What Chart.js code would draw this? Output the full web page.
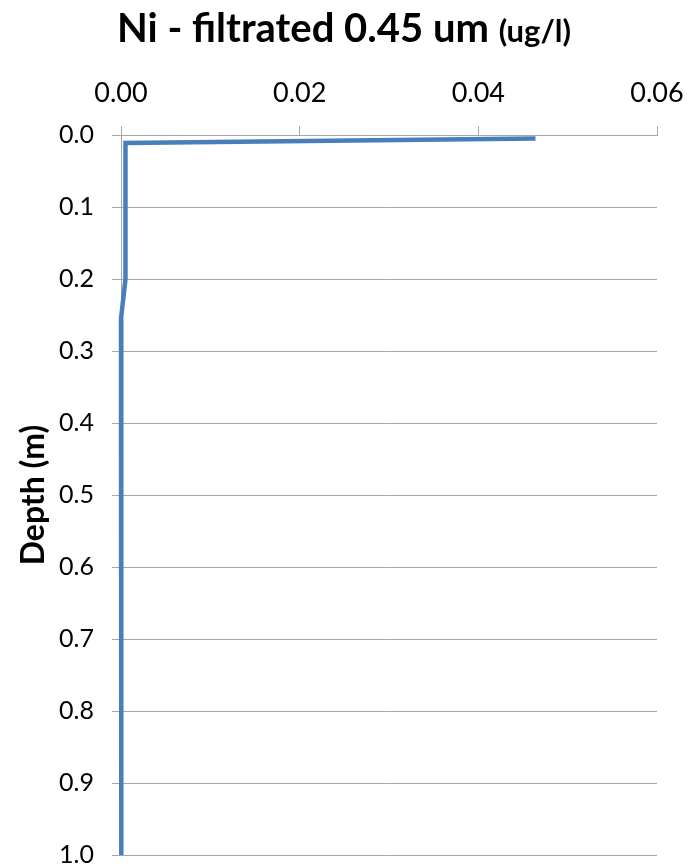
<!DOCTYPE html>
<html lang="en">
<head>
<meta charset="UTF-8">
<title>Ni - filtrated 0.45 um</title>
<script src="https://cdn.jsdelivr.net/npm/chart.js@4"></script>
<style>
  body { margin: 0; background: #fff; }
  #wrap { position: relative; width: 692px; height: 867px; }
  #title {
    position: absolute; left: 117px; top: 3px; white-space: nowrap;
    font-family: Lato, sans-serif; font-weight: bold; font-size: 40px; color: #000;
  }
  #title small { font-size: 31px; }
</style>
</head>
<body>
<div id="wrap">
  <canvas id="myChart" width="692" height="867"></canvas>
  <div id="title">Ni - filtrated 0.45 um <small>(ug/l)</small></div>
</div>
<script>
// depth profile
const depths = [0.005, 0.011, 0.2, 0.255, 0.62, 0.65, 1.0];
const values = [0.0464, 0.0005, 0.0005, 0.0, 0.0, 0.0001, 0.0];
const xTicks = [0, 0.02, 0.04, 0.06];
const yTicks = [0, 0.1, 0.2, 0.3, 0.4, 0.5, 0.6, 0.7, 0.8, 0.9, 1.0];

const points = depths.map((d, i) => ({ x: values[i], y: d }));
const gray = '#a6a6a6';

var ctx = document.getElementById('myChart').getContext('2d');
var chart = new Chart(ctx, {
    type: 'scatter',
    data: {
        datasets: [{
            data: points,
            showLine: true,
            borderColor: '#4a7ebb',
            borderWidth: 4.5,
            pointRadius: 0,
            tension: 0,
            clip: false
        }]
    },
    options: {
        responsive: false,
        animation: false,
        layout: { padding: { left: 0, right: 35, top: 0, bottom: 12 } },
        plugins: { legend: { display: false }, tooltip: { enabled: false } },
        scales: {
            x: {
                type: 'linear',
                position: 'top',
                min: 0, max: 0.06,
                afterBuildTicks: (s) => { s.ticks = xTicks.map(v => ({ value: v })); },
                afterFit: (s) => {
                    s.height = 135;
                    s.paddingLeft = 0; s.paddingRight = 0;
                },
                border: { display: true, color: gray, width: 1 },
                grid: { display: true, drawOnChartArea: false, drawTicks: true, tickLength: 9, color: gray },
                ticks: {
                    padding: 17,
                    color: '#000',
                    font: { family: 'Lato', size: 27 },
                    callback: (v) => v.toFixed(2)
                }
            },
            y: {
                type: 'linear',
                reverse: true,
                min: 0, max: 1,
                afterBuildTicks: (s) => { s.ticks = yTicks.map(v => ({ value: v })); },
                afterFit: (s) => {
                    s.width = 121;
                    s.paddingTop = 0; s.paddingBottom = 0;
                },
                border: { display: true, color: gray, width: 1 },
                grid: { color: gray, tickLength: 9, lineWidth: 1 },
                title: {
                    display: true,
                    text: 'Depth (m)',
                    color: '#000',
                    font: { family: 'Lato', size: 32, weight: 'bold' },
                    padding: { top: 14, bottom: 0 }
                },
                ticks: {
                    padding: 18,
                    color: '#000',
                    font: { family: 'Lato', size: 25 },
                    callback: (v) => v.toFixed(1)
                }
            }
        }
    }
});
</script>
</body>
</html>
